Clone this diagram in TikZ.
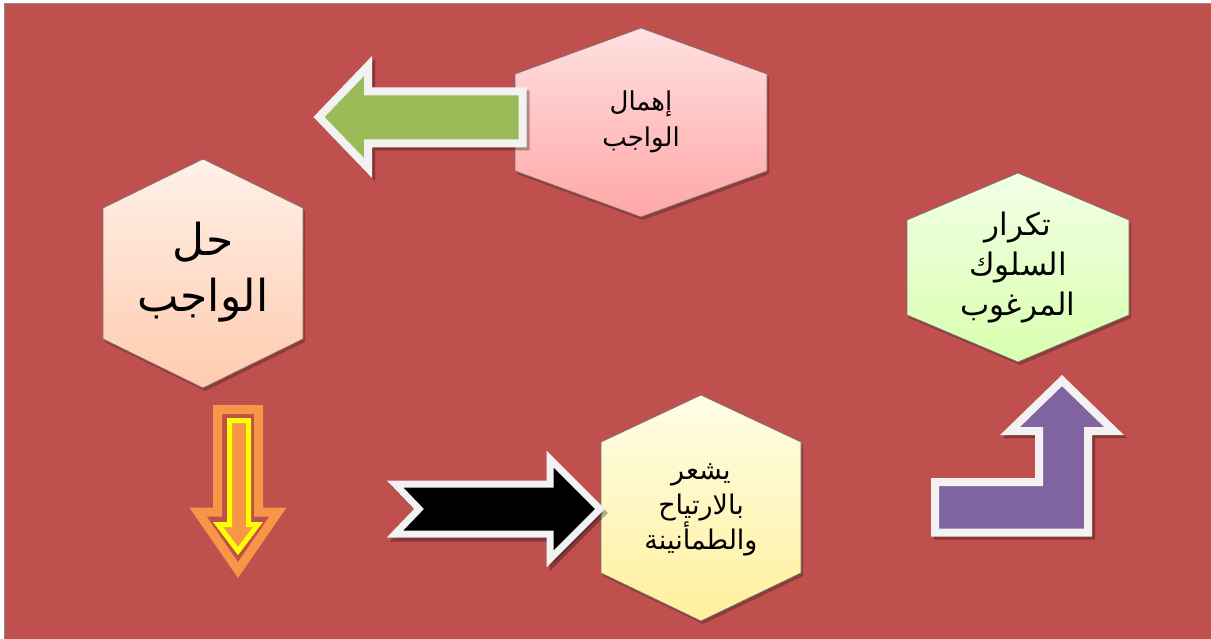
\documentclass[tikz,border=0pt]{standalone}
\usepackage{fontspec}
\newfontfamily\arabicfont[Script=Arabic]{DejaVu Sans}
\TeXXeTstate=1
\definecolor{bgred}{HTML}{C0504D}
\definecolor{borderwhite}{HTML}{F2F2F2}
\definecolor{arrgreen}{HTML}{9BBB59}
\definecolor{arrpurple}{HTML}{8064A2}
\definecolor{arrorange}{HTML}{F79646}
\definecolor{arryellow}{HTML}{FFFF00}
\definecolor{pinkT}{HTML}{FFE0E0}
\definecolor{pinkB}{HTML}{FFA6A6}
\definecolor{peachT}{HTML}{FFF1E8}
\definecolor{peachB}{HTML}{FFCBAE}
\definecolor{yelT}{HTML}{FFFDE8}
\definecolor{yelB}{HTML}{FFF09C}
\definecolor{grnT}{HTML}{F2FFE6}
\definecolor{grnB}{HTML}{D8FFAE}
\newcommand\hexshape[9]{%
  \begin{scope}[shift={(2,3)}]
    \fill[black,opacity=.25] (#1,#2) -- (#5,#6) -- (#5,#7) -- (#1,#3) -- (#4,#7) -- (#4,#6) -- cycle;
  \end{scope}
  \path[draw=black!55, line width=.7, top color=#8, bottom color=#9] (#1,#2) -- (#5,#6) -- (#5,#7) -- (#1,#3) -- (#4,#7) -- (#4,#6) -- cycle;
}
\newcommand\GreenArrow[1]{\path[#1] (319,117) -- (368,66) -- (368,91.5) -- (522.5,91.5) -- (522.5,143.5) -- (368,143.5) -- (368,168) -- cycle;}
\newcommand\BlackArrow[1]{\path[#1] (395,484) -- (550,484) -- (550,459) -- (600,509) -- (550,559) -- (550,534) -- (395,534) -- (419,509) -- cycle;}
\newcommand\PurpleArrow[1]{\path[#1] (935,482) -- (1039,482) -- (1039,431) -- (1010,431) -- (1062,380.5) -- (1114,431) -- (1088,431) -- (1088,532.5) -- (935,532.5) -- cycle;}
\begin{document}
\begin{tikzpicture}[x=1pt,y=-1pt,
  arrowshadow/.style={draw=black, fill=black, opacity=0.3, line width=8, line join=miter},
  whiteborder/.style={draw=borderwhite, line width=8, line join=miter},
  txt/.style={align=center, text=black, inner sep=0pt}]
\useasboundingbox (0,0) rectangle (1211,639);
% background
\fill[bgred] (4,3) rectangle (1211,639);
\draw[black!45, line width=.8] (4,639) -- (4,3) -- (1211,3);
% hexagons
\hexshape{641}{28}{217}{515}{767}{74}{171}{pinkT}{pinkB}
\hexshape{203}{159}{388}{103}{303}{208}{339}{peachT}{peachB}
\hexshape{701}{395}{621}{601}{801}{442}{573}{yelT}{yelB}
\hexshape{1018}{173}{362}{907}{1129}{220}{315}{grnT}{grnB}
% texts
\node[txt, font=\arabicfont\fontsize{26}{36}\selectfont] (neglect) at (641,122) {\beginR إهمال\endR\\\beginR الواجب\endR};
\node[txt, font=\arabicfont\fontsize{44}{56}\selectfont] (solve) at (203,272) {\beginR حل\endR\\\beginR الواجب\endR};
\node[txt, font=\arabicfont\fontsize{27}{35}\selectfont] (relief) at (701,510) {\beginR يشعر\endR\\\beginR بالارتياح\endR\\\beginR والطمأنينة\endR};
\node[txt, font=\arabicfont\fontsize{31}{40}\selectfont] (repeat) at (1018,268) {\beginR تكرار\endR\\\beginR السلوك\endR\\\beginR المرغوب\endR};
% green arrow
\begin{scope}[shift={(3,3)}]\GreenArrow{arrowshadow}\end{scope}
\GreenArrow{whiteborder, fill=arrgreen}
% orange arrow
\draw[arrorange, line width=9, line join=miter] (217.5,409.5) -- (258.5,409.5) -- (258.5,512) -- (278,512) -- (238,570) -- (198,512) -- (217.5,512) -- cycle;
\draw[arryellow, fill=arrorange, line width=5, line join=miter] (229.5,420.5) -- (248.5,420.5) -- (248.5,524.5) -- (258,524.5) -- (238,551) -- (218,524.5) -- (229.5,524.5) -- cycle;
% black arrow
\begin{scope}[shift={(3,4)}]\BlackArrow{arrowshadow, line width=7}\end{scope}
\BlackArrow{whiteborder, line width=7, fill=black}
% purple arrow
\begin{scope}[shift={(3,3)}]\PurpleArrow{arrowshadow}\end{scope}
\PurpleArrow{whiteborder, fill=arrpurple}
\end{tikzpicture}
\end{document}
